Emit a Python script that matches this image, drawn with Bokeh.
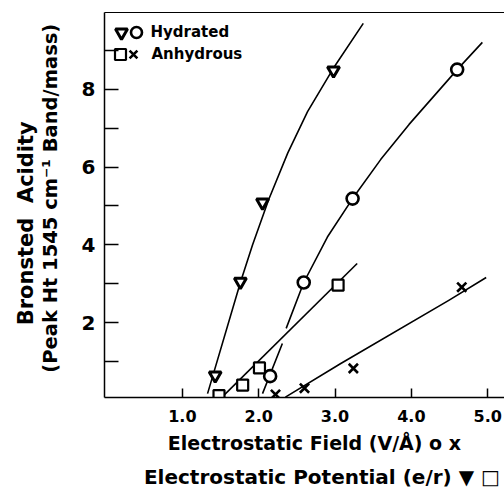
import math
from bokeh.plotting import figure
from bokeh.models import Range1d, FixedTicker, LinearAxis, Label, NumeralTickFormatter
from bokeh.embed import file_html
from bokeh.resources import INLINE

# ---- data ----
# Hydrated, electrostatic potential (inverted triangles)
tri_x = [1.43, 1.76, 2.05, 2.98]
tri_y = [0.64, 3.05, 5.09, 8.49]
tri_fit_x = [1.33, 1.76, 1.92, 2.13, 2.38, 2.64, 2.98, 3.37]
tri_fit_y = [0.17, 3.03, 4.00, 5.16, 6.36, 7.43, 8.55, 9.70]

# Hydrated, electrostatic field (circles)
circ_x = [2.15, 2.59, 3.23, 4.60]
circ_y = [0.62, 3.03, 5.19, 8.51]
circ_fit_x = [2.05, 2.31, float("nan"), 2.36, 2.59, 2.90, 3.23, 3.60, 3.97, 4.60, 4.93]
circ_fit_y = [0.17, 1.46, float("nan"), 1.85, 3.03, 4.20, 5.19, 6.20, 7.10, 8.51, 9.21]

# Anhydrous, electrostatic potential (squares)
sq_x = [1.48, 1.79, 2.01, 3.04]
sq_y = [0.12, 0.39, 0.83, 2.96]
sq_fit_x = [1.52, 3.29]
sq_fit_y = [0.08, 3.52]

# Anhydrous, electrostatic field (crosses)
x_x = [2.22, 2.60, 3.24, 4.66]
x_y = [0.15, 0.31, 0.82, 2.91]
x_fit_x = [2.35, 3.07, 4.49, 4.98]
x_fit_y = [0.08, 0.94, 2.57, 3.16]

x_ticks = [1, 2, 3, 4, 5]
y_ticks = [2, 4, 6, 8]
y_minor = [1, 3, 5, 7, 9]

NB = "\u00a0"
x_title_1 = "Electrostatic Field (V/Å) o x"
x_title_2 = "Electrostatic Potential (e/r) ▼ □"
y_title_1 = "Bronsted" + NB + NB + "Acidity"
y_title_2 = "(Peak Ht 1545 cm⁻¹ Band/mass)"

FONT = "DejaVu Sans"
X0, X1 = -0.02, 5.22
Y0, Y1 = 0.07, 9.98
W, H = 504, 496
L, R, T, B = 104, 0, 12, 99

p = figure(width=W, height=H, output_backend="svg", toolbar_location=None,
           x_range=Range1d(X0, X1), y_range=Range1d(Y0, Y1),
           min_border_left=L, min_border_right=R, min_border_top=T, min_border_bottom=B)
p.grid.visible = False
p.outline_line_color = None
p.background_fill_color = "white"
p.border_fill_color = "white"

fw = W - L - R
fh = H - T - B
def dx(px):
    return X0 + (px - L) * (X1 - X0) / fw
def dy(py):
    return Y1 - (py - T) * (Y1 - Y0) / fh

def style_title(ax, size):
    ax.axis_label_text_font = FONT
    ax.axis_label_text_font_style = "bold"
    ax.axis_label_text_font_size = size
    ax.axis_label_text_color = "black"

xa = p.xaxis[0]
xa.ticker = FixedTicker(ticks=x_ticks)
xa.formatter = NumeralTickFormatter(format="0.0")
xa.major_tick_in = 9
xa.major_tick_out = 0
xa.minor_tick_line_color = None
xa.axis_line_width = 1.5
xa.major_tick_line_width = 1.5
xa.major_label_text_font = FONT
xa.major_label_text_font_style = "bold"
xa.major_label_text_font_size = "16px"
xa.major_label_text_color = "black"
xa.major_label_standoff = 12
xa.axis_label = NB * 3 + x_title_1
xa.axis_label_standoff = 7
style_title(xa, "19px")

xb = LinearAxis(ticker=FixedTicker(ticks=[]), axis_line_color=None,
                major_tick_line_color=None, minor_tick_line_color=None,
                major_label_text_font_size="0px", major_label_standoff=0,
                axis_label=NB * 5 + x_title_2, axis_label_standoff=8)
style_title(xb, "20px")
p.add_layout(xb, "below")

ya = p.yaxis[0]
ya.ticker = FixedTicker(ticks=y_ticks, minor_ticks=y_minor)
ya.major_tick_in = 14
ya.major_tick_out = 0
ya.minor_tick_in = 14
ya.minor_tick_out = 0
ya.axis_line_width = 1.5
ya.major_tick_line_width = 1.5
ya.minor_tick_line_width = 1.5
ya.minor_tick_line_color = "black"
ya.major_label_text_font = FONT
ya.major_label_text_font_style = "bold"
ya.major_label_text_font_size = "20px"
ya.major_label_text_color = "black"
ya.major_label_standoff = 9
ya.axis_label = NB * 2 + y_title_2
ya.axis_label_standoff = 17
style_title(ya, "19.5px")

yb = LinearAxis(ticker=FixedTicker(ticks=[]), axis_line_color=None,
                major_tick_line_color=None, minor_tick_line_color=None,
                major_label_text_font_size="0px", major_label_standoff=0,
                axis_label=y_title_1 + NB * 5, axis_label_standoff=-2)
style_title(yb, "21px")
p.add_layout(yb, "left")

top = LinearAxis(ticker=FixedTicker(ticks=[]), major_tick_line_color=None,
                 minor_tick_line_color=None, major_label_text_font_size="0px",
                 major_label_standoff=0, axis_line_width=1.2)
p.add_layout(top, "above")

# fit curves
lw = 1.6
p.line(tri_fit_x, tri_fit_y, line_color="black", line_width=lw, line_join="round")
p.line(circ_fit_x, circ_fit_y, line_color="black", line_width=lw, line_join="round")
p.line(sq_fit_x, sq_fit_y, line_color="black", line_width=lw)
p.line(x_fit_x, x_fit_y, line_color="black", line_width=lw, line_join="round")

# markers
p.scatter(tri_x, tri_y, marker="inverted_triangle", size=12, fill_color="white",
          line_color="black", line_width=3)
p.scatter(circ_x, circ_y, marker="circle", size=12, fill_color="white",
          line_color="black", line_width=2.6)
p.scatter(sq_x, sq_y, marker="square", size=11, fill_color="white",
          line_color="black", line_width=2.2)
p.scatter(x_x, x_y, marker="x", size=13, line_color="black", line_width=2.6)

# legend keys
p.scatter([dx(121)], [dy(32)], marker="inverted_triangle", size=12, fill_color="white",
          line_color="black", line_width=3)
p.scatter([dx(136)], [dy(32)], marker="circle", size=11, fill_color="white",
          line_color="black", line_width=2.6)
p.scatter([dx(120)], [dy(54)], marker="square", size=11, fill_color="white",
          line_color="black", line_width=2.2)
p.scatter([dx(133)], [dy(54)], marker="x", size=11, line_color="black", line_width=2.6)

def lab(x, y, text, size):
    p.add_layout(Label(x=x, y=y, text=text, text_font=FONT, text_font_style="bold",
                       text_font_size=size, text_color="black", text_align="left",
                       text_baseline="middle"))

lab(dx(150), dy(31), "Hydrated", "15px")
lab(dx(151), dy(53), "Anhydrous", "15px")

open("out.html", "w").write(file_html(p, INLINE))
